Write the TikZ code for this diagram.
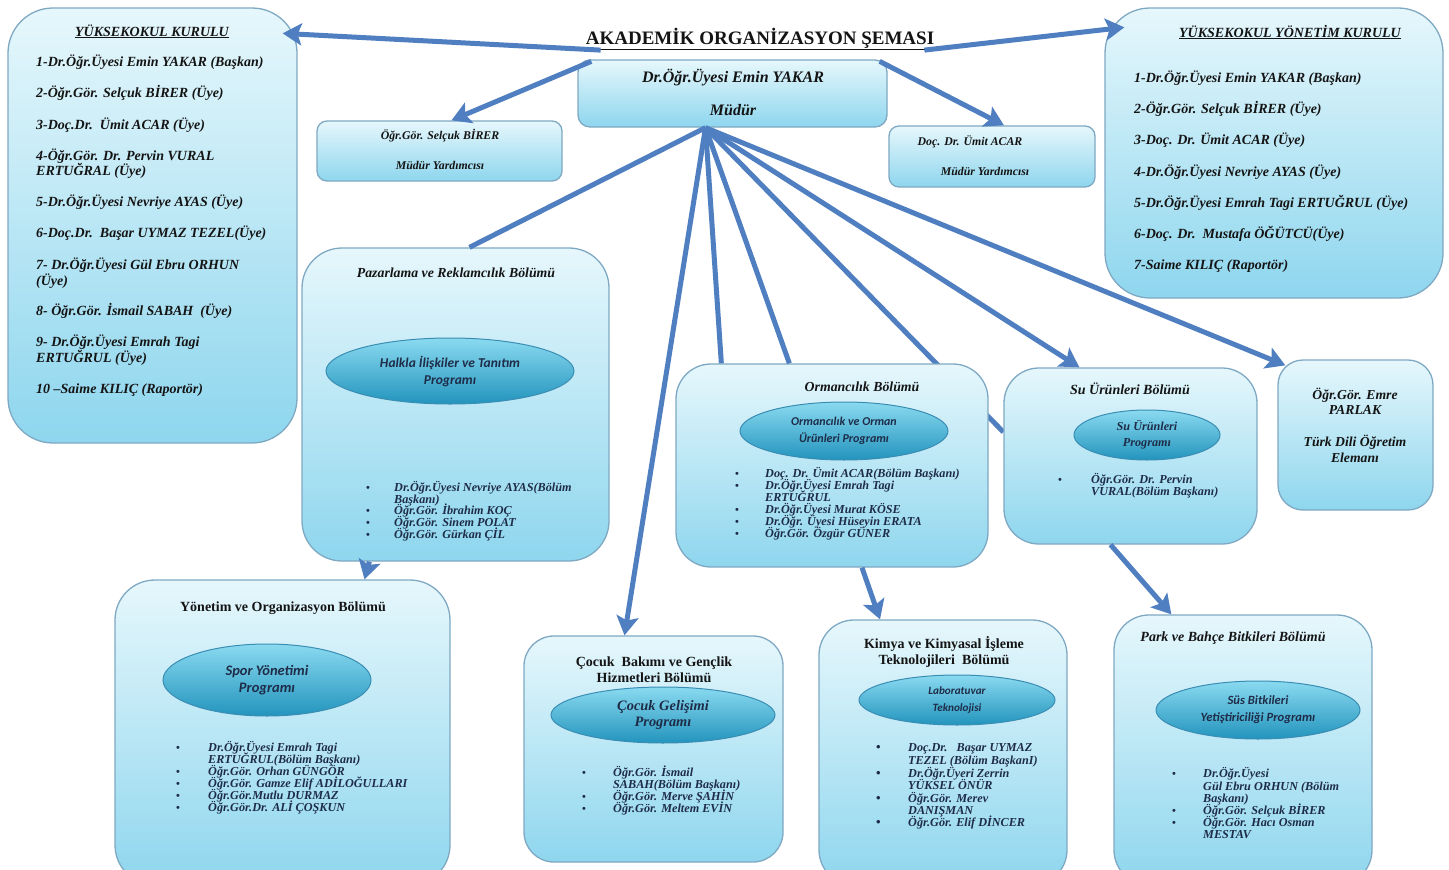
\documentclass[tikz,border=0pt]{standalone}
\usepackage{fontspec}
\setmainfont{Liberation Serif}
\newfontfamily\calib{Carlito}
\usetikzlibrary{arrows.meta,calc,shapes.geometric}
\definecolor{boxtop}{HTML}{E6F7FC}
\definecolor{boxbot}{HTML}{8ED6EE}
\definecolor{boxline}{HTML}{7FA9C2}
\definecolor{elltop}{HTML}{8ADAF0}
\definecolor{ellbot}{HTML}{2394BD}
\definecolor{ellline}{HTML}{3A8DB3}
\definecolor{conn}{HTML}{4F7FC0}
\definecolor{txt}{HTML}{141414}
\definecolor{navy}{HTML}{1E2C48}
\newcommand{\fsz}[2]{\fontsize{#1}{#2}\selectfont}
\pgfdeclarelayer{bg}
\pgfsetlayers{bg,main}
\begin{document}
\begin{tikzpicture}[x=1pt,y=-1pt,
  box/.style={draw=boxline, line width=1.3pt, top color=boxtop, bottom color=boxbot, inner sep=0pt},
  ell/.style={ellipse, draw=ellline, line width=1pt, top color=elltop, bottom color=ellbot, inner sep=0pt, align=center, text=navy},
  ellsans/.style={ell, font=\calib\fsz{#1}{17}\bfseries\itshape},
  ellserif/.style={ell, font=\fsz{#1}{16}\bfseries\itshape},
  big/.style={font=\fsz{14}{16}\bfseries\itshape, text=txt, inner sep=0pt, anchor=base west},
  hd/.style={font=\fsz{#1}{15}\bfseries\itshape, text=txt, inner sep=0pt, anchor=base},
  hdup/.style={font=\fsz{#1}{15}\bfseries, text=txt, inner sep=0pt, anchor=base},
  lst/.style={font=\fsz{12.2}{12}\bfseries\itshape, text=navy, inner sep=0pt, anchor=base west},
  bul/.style={font=\fsz{11}{12}\bfseries, text=navy, inner sep=0pt, anchor=base west},
  cn/.style={draw=conn, line width=5pt},
  ar/.style={cn, -{Stealth[length=19pt,width=22pt,inset=4pt]}}
]
\useasboundingbox (0,0) rectangle (1449,870);
\begin{pgfonlayer}{bg}
\fill[white] (0,0) rectangle (1449,870);
\end{pgfonlayer}

% ---------- boxes ----------
\node[box, rounded corners=45pt, minimum width=289pt, minimum height=435pt] (kurulu) at (152.5,225.5) {};
\node[box, rounded corners=45pt, minimum width=338pt, minimum height=290pt] (yk) at (1274,153) {};
\node[box, rounded corners=12pt, minimum width=309pt, minimum height=67pt] (mudur) at (732.5,93.5) {};
\node[box, rounded corners=10pt, minimum width=245pt, minimum height=60pt] (myd1) at (439.5,151) {};
\node[box, rounded corners=10pt, minimum width=206pt, minimum height=61pt] (myd2) at (992,156.5) {};
\node[box, rounded corners=40pt, minimum width=307pt, minimum height=313pt] (paz) at (455.5,404.5) {};
\node[box, rounded corners=35pt, minimum width=312pt, minimum height=203pt] (orm) at (832,465.5) {};
\node[box, rounded corners=35pt, minimum width=253pt, minimum height=176pt] (su) at (1130.5,456) {};
\node[box, rounded corners=25pt, minimum width=155pt, minimum height=150pt] (emre) at (1355.5,435) {};
\node[box, rounded corners=40pt, minimum width=335pt, minimum height=305pt] (yon) at (282.5,732.5) {};
\node[box, rounded corners=30pt, minimum width=259pt, minimum height=226pt] (coc) at (653.5,749) {};
\node[box, rounded corners=35pt, minimum width=248pt, minimum height=265pt] (kim) at (943,752.5) {};
\node[box, rounded corners=35pt, minimum width=258pt, minimum height=270pt] (park) at (1243,750) {};

% ---------- title ----------
\node[font=\fsz{19}{22}\bfseries, text=txt, inner sep=0pt, anchor=base] (title) at (760,44) {\underline{AKADEMİK ORGANİZASYON ŞEMASI}};

% ---------- Yüksekokul Kurulu ----------
\node[hd=14] (kurt) at (152,36) {\underline{YÜKSEKOKUL KURULU}};
\foreach \yy/\tx [count=\i] in {66/{1-Dr.Öğr.Üyesi Emin YAKAR (Başkan)}, 97/{2-Öğr.Gör. Selçuk BİRER (Üye)}, 129/{3-Doç.Dr.\ \ Ümit ACAR (Üye)}, 160/{4-Öğr.Gör. Dr. Pervin VURAL}, 175/{ERTUĞRAL (Üye)}, 206/{5-Dr.Öğr.Üyesi Nevriye AYAS (Üye)}, 237/{6-Doç.Dr.\ \ Başar UYMAZ TEZEL(Üye)}, 269/{7- Dr.Öğr.Üyesi Gül Ebru ORHUN}, 285/{(Üye)}, 315/{8- Öğr.Gör. İsmail SABAH\ \ (Üye)}, 346/{9- Dr.Öğr.Üyesi Emrah Tagi}, 362/{ERTUĞRUL (Üye)}, 393/{10 –Saime KILIÇ (Raportör)}}
  \node[big] (kl\i) at (36,\yy) {\tx};

% ---------- Yüksekokul Yönetim Kurulu ----------
\node[hd=14] (ykt) at (1290,37) {\underline{YÜKSEKOKUL YÖNETİM KURULU}};
\foreach \yy/\tx [count=\i] in {82/{1-Dr.Öğr.Üyesi Emin YAKAR (Başkan)}, 113/{2-Öğr.Gör. Selçuk BİRER (Üye)}, 144/{3-Doç. Dr. Ümit ACAR (Üye)}, 176/{4-Dr.Öğr.Üyesi Nevriye AYAS (Üye)}, 207/{5-Dr.Öğr.Üyesi Emrah Tagi ERTUĞRUL (Üye)}, 238/{6-Doç. Dr.\ \ Mustafa ÖĞÜTCÜ(Üye)}, 269/{7-Saime KILIÇ (Raportör)}}
  \node[big] (yl\i) at (1134,\yy) {\tx};

% ---------- Müdür ----------
\node[hd=16] (mud1) at (733,82) {Dr.Öğr.Üyesi Emin YAKAR};
\node[hd=16] (mud2) at (733,115) {Müdür};
\node[hd=11.8] (my1a) at (440,139) {Öğr.Gör. Selçuk BİRER};
\node[hd=11.8] (my1b) at (440,169) {Müdür Yardımcısı};
\node[hd=11.8] (my2a) at (970,145) {Doç. Dr. Ümit ACAR};
\node[hd=11.8] (my2b) at (985,175) {Müdür Yardımcısı};

% ---------- Pazarlama ----------
\node[hd=13.8] (pazt) at (456,277) {Pazarlama ve Reklamcılık Bölümü};
\node[ellsans=13.5, minimum width=248pt, minimum height=66pt] (pazp) at (450,371) {Halkla İlişkiler ve Tanıtım\\Programı};
\foreach \yy/\tx [count=\i] in {491/{Dr.Öğr.Üyesi Nevriye AYAS(Bölüm}, 503/{Başkanı)}, 514/{Öğr.Gör. İbrahim KOÇ}, 526/{Öğr.Gör. Sinem POLAT}, 538/{Öğr.Gör. Gürkan ÇİL}}
  \node[lst] (pazl\i) at (394,\yy) {\tx};
\foreach \yy [count=\i] in {491,514,526,538}
  \node[bul] (pazb\i) at (366,\yy) {•};

% ---------- Ormancılık ----------
\node[hd=13.8] (ormt) at (862,391) {Ormancılık Bölümü};
\node[ellsans=12, minimum width=208pt, minimum height=58pt] (ormp) at (844,431) {Ormancılık ve Orman\\Ürünleri Programı};
\foreach \yy/\tx [count=\i] in {477/{Doç. Dr. Ümit ACAR(Bölüm Başkanı)}, 489/{Dr.Öğr.Üyesi Emrah Tagi}, 501/{ERTUĞRUL}, 513/{Dr.Öğr.Üyesi Murat KÖSE}, 525/{Dr.Öğr. Üyesi Hüseyin ERATA}, 537/{Öğr.Gör. Özgür GÜNER}}
  \node[lst] (orml\i) at (765,\yy) {\tx};
\foreach \yy [count=\i] in {477,489,513,525,537}
  \node[bul] (ormb\i) at (735,\yy) {•};

% ---------- Su Ürünleri ----------
\node[hd=14] (sut) at (1130,394) {Su Ürünleri Bölümü};
\node[ellserif=12.2, minimum width=146pt, minimum height=50pt] (sup) at (1147,435) {Su Ürünleri\\Programı};
\node[lst] (sul1) at (1091,483) {Öğr.Gör. Dr. Pervin};
\node[lst] (sul2) at (1091,495) {VURAL(Bölüm Başkanı)};
\node[bul] (sub1) at (1058,483) {•};

% ---------- Emre ----------
\node[hd=13.7] (em1) at (1355,399) {Öğr.Gör. Emre};
\node[hd=13.7] (em2) at (1355,414) {PARLAK};
\node[hd=13.7] (em3) at (1355,446) {Türk Dili Öğretim};
\node[hd=13.7] (em4) at (1355,462) {Elemanı};

% ---------- Yönetim ----------
\node[hdup=14] (yont) at (283,611) {Yönetim ve Organizasyon Bölümü};
\node[ellsans=14.5, minimum width=208pt, minimum height=72pt] (yonp) at (267,680) {Spor Yönetimi\\Programı};
\foreach \yy/\tx [count=\i] in {751/{Dr.Öğr.Üyesi Emrah Tagi}, 763/{ERTUĞRUL(Bölüm Başkanı)}, 775/{Öğr.Gör. Orhan GÜNGÖR}, 787/{Öğr.Gör. Gamze Elif ADİLOĞULLARI}, 799/{Öğr.Gör.Mutlu DURMAZ}, 811/{Öğr.Gör.Dr. ALİ ÇOŞKUN}}
  \node[lst] (yonl\i) at (208,\yy) {\tx};
\foreach \yy [count=\i] in {751,775,787,799,811}
  \node[bul] (yonb\i) at (176,\yy) {•};

% ---------- Çocuk ----------
\node[hdup=14] (coct1) at (654,666) {Çocuk\ \ Bakımı ve Gençlik};
\node[hdup=14] (coct2) at (654,682) {Hizmetleri Bölümü};
\node[ellserif=14.4, minimum width=224pt, minimum height=56pt] (cocp) at (663,715) {Çocuk Gelişimi\\Programı};
\foreach \yy/\tx [count=\i] in {776/{Öğr.Gör. İsmail}, 788/{SABAH(Bölüm Başkanı)}, 800/{Öğr.Gör. Merve ŞAHİN}, 812/{Öğr.Gör. Meltem EVİN}}
  \node[lst] (cocl\i) at (613,\yy) {\tx};
\foreach \yy [count=\i] in {776,800,812}
  \node[bul] (cocb\i) at (582,\yy) {•};

% ---------- Kimya ----------
\node[hdup=14] (kimt1) at (944,648) {Kimya ve Kimyasal İşleme};
\node[hdup=14] (kimt2) at (944,664) {Teknolojileri\ \ Bölümü};
\node[ellsans=11.2, minimum width=196pt, minimum height=50pt] (kimp) at (957,700) {Laboratuvar\\Teknolojisi};
\foreach \yy/\tx [count=\i] in {751/{Doç.Dr.\ \ \ Başar UYMAZ}, 764/{TEZEL (Bölüm BaşkanI)}, 777/{Dr.Öğr.Üyeri Zerrin}, 789/{YÜKSEL ÖNÜR}, 802/{Öğr.Gör. Merev}, 814/{DANIŞMAN}, 826/{Öğr.Gör. Elif DİNCER}}
  \node[lst] (kiml\i) at (908,\yy) {\tx};
\foreach \yy [count=\i] in {751,777,802,826}
  \node[bul, font=\fsz{13}{12}\bfseries] (kimb\i) at (876,\yy) {•};

% ---------- Park ----------
\node[hd=14] (parkt) at (1233,641) {Park ve Bahçe Bitkileri Bölümü};
\node[ellsans=12.6, minimum width=204pt, minimum height=58pt] (parkp) at (1258,710) {Süs Bitkileri\\Yetiştiriciliği Programı};
\foreach \yy/\tx [count=\i] in {777/{Dr.Öğr.Üyesi}, 790/{Gül Ebru ORHUN (Bölüm}, 802/{Başkanı)}, 814/{Öğr.Gör. Selçuk BİRER}, 826/{Öğr.Gör. Hacı Osman}, 838/{MESTAV}}
  \node[lst] (parkl\i) at (1203,\yy) {\tx};
\foreach \yy [count=\i] in {777,814,826}
  \node[bul] (parkb\i) at (1172,\yy) {•};

% ---------- connectors ----------
\begin{pgfonlayer}{bg}
\draw[cn] ($(mudur.south)+(-27,0)$) -- ($(su.west)+(0,-24)$);
\end{pgfonlayer}
\draw[ar] ($(title.south west)+(15,0)$) -- ($(kurulu.north east)+(-15,26)$);
\draw[ar] ($(title.south east)+(-10,0)$) -- ($(yk.north west)+(20,20)$);
\draw[ar] ($(mudur.north west)+(14,2)$) -- ($(myd1.north)+(12,0)$);
\draw[ar] ($(mudur.north east)+(-8,2)$) -- ($(myd2.north)+(12,0)$);
\draw[cn] ($(mudur.south)+(-27,0)$) -- ($(paz.north)+(14,0)$);
\draw[ar] ($(mudur.south)+(-27,0)$) -- ($(coc.north)+(-29,0)$);
\draw[cn] ($(mudur.south)+(-27,0)$) -- ($(orm.north west)+(46,0)$);
\draw[cn] ($(mudur.south)+(-27,0)$) -- ($(orm.north west)+(114,0)$);
\draw[ar] ($(mudur.south)+(-27,0)$) -- ($(su.north west)+(76,0)$);
\draw[ar] ($(mudur.south)+(-27,0)$) -- ($(emre.north west)+(8,6)$);
\draw[ar] ($(paz.south west)+(68,0)$) -- ($(yon.north)+(82,0)$);
\draw[ar] ($(orm.south)+(30,0)$) -- ($(kim.north)+(-63,0)$);
\draw[ar] ($(su.south)+(-20,0)$) -- ($(park.north west)+(58,0)$);
\end{tikzpicture}
\end{document}
